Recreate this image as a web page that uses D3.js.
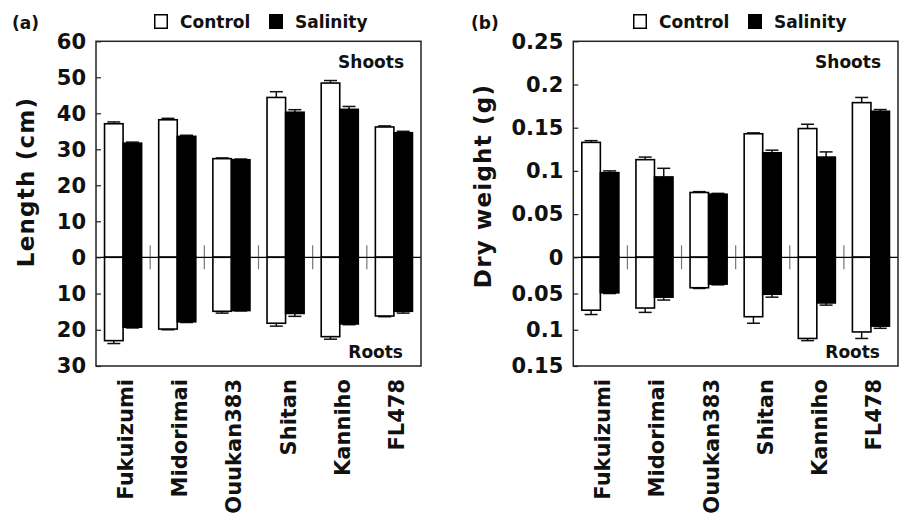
<!DOCTYPE html>
<html>
<head>
<meta charset="utf-8">
<script src="https://cdn.jsdelivr.net/npm/d3@7"></script>
<style>
  body { margin: 0; background: #fff; }
  svg text { font-family: "DejaVu Sans", Verdana, sans-serif; font-weight: bold; fill: #111; }
</style>
</head>
<body>
<svg id="chart" width="900" height="516"></svg>
<script>
var varieties = ["Fukuizumi", "Midorimai", "Ouukan383", "Shitan", "Kanniho", "FL478"];
var groups = ["Control", "Salinity"];

// (a) length, cm
var lenShootCtrl    = [37.1, 38.2, 27.4, 44.4, 48.4, 36.2];
var lenShootCtrlErr = [0.5, 0.4, 0.2, 1.6, 0.7, 0.3];
var lenShootSal     = [31.7, 33.6, 27.1, 40.3, 41.1, 34.6];
var lenShootSalErr  = [0.3, 0.3, 0.2, 0.7, 0.8, 0.4];
var lenRootCtrl     = [23.0, 19.8, 14.9, 18.2, 21.9, 16.2];
var lenRootCtrlErr  = [0.8, 0.2, 0.5, 0.8, 0.7, 0.2];
var lenRootSal      = [19.3, 17.8, 14.7, 15.5, 18.4, 14.9];
var lenRootSalErr   = [0.2, 0.2, 0.1, 0.8, 0.2, 0.5];
var lenShootTicks = [0, 10, 20, 30, 40, 50, 60];
var lenRootTicks  = [10, 20, 30];

// (b) dry weight, g
var dwShootCtrl    = [0.133, 0.113, 0.075, 0.143, 0.149, 0.179];
var dwShootCtrlErr = [0.002, 0.003, 0.001, 0.001, 0.005, 0.006];
var dwShootSal     = [0.098, 0.093, 0.073, 0.121, 0.116, 0.169];
var dwShootSalErr  = [0.002, 0.010, 0.001, 0.003, 0.006, 0.002];
var dwRootCtrl     = [0.073, 0.070, 0.042, 0.082, 0.112, 0.103];
var dwRootCtrlErr  = [0.006, 0.006, 0.001, 0.009, 0.003, 0.009];
var dwRootSal      = [0.049, 0.055, 0.037, 0.051, 0.063, 0.095];
var dwRootSalErr   = [0.001, 0.004, 0.001, 0.004, 0.003, 0.003];
var dwShootTicks = [0, 0.05, 0.1, 0.15, 0.2, 0.25];
var dwRootTicks  = [0.05, 0.1, 0.15];

var svg = d3.select("#chart");
var top_ = 41.3, zero = 257.3, bottom = 366;

var drawPanel = function(p) {
  var g, x, xs, yS, yR, rows, bars, errs, cap;

  x = d3.scaleBand().domain(varieties).range([p.left, p.right]).padding(0);
  xs = d3.scaleBand().domain(groups).range([0, x.bandwidth()]).paddingOuter(0.46).paddingInner(0);
  yS = d3.scaleLinear().domain([0, d3.max(p.shootTicks)]).range([zero, top_]);
  yR = d3.scaleLinear().domain([0, d3.max(p.rootTicks)]).range([zero, bottom]);

  g = svg.append("g");

  rows = [];
  varieties.forEach(function(v, i) {
    groups.forEach(function(grp, j) {
      rows.push({ v: v, grp: grp, part: "shoot", val: p.shoot[j][i], err: p.shootErr[j][i] });
      rows.push({ v: v, grp: grp, part: "root", val: p.root[j][i], err: p.rootErr[j][i] });
    });
  });

  // separators between varieties on the zero line
  g.selectAll("line.sep").data(varieties.slice(1)).enter().append("line")
    .attr("class", "sep")
    .attr("x1", function(d) { return x(d); }).attr("x2", function(d) { return x(d); })
    .attr("y1", zero - 12).attr("y2", zero + 12)
    .attr("stroke", "#777").attr("stroke-width", 1.2);

  // error bars, outward only
  cap = 6.5;
  errs = g.selectAll("g.err").data(rows).enter().append("g").attr("class", "err")
    .attr("stroke", "#111").attr("stroke-width", 1.5);
  errs.append("line")
    .attr("x1", function(d) { return x(d.v) + xs(d.grp) + xs.bandwidth() / 2; })
    .attr("x2", function(d) { return x(d.v) + xs(d.grp) + xs.bandwidth() / 2; })
    .attr("y1", function(d) { return d.part === "shoot" ? yS(d.val) : yR(d.val); })
    .attr("y2", function(d) { return d.part === "shoot" ? yS(d.val + d.err) : yR(d.val + d.err); });
  errs.append("line")
    .attr("x1", function(d) { return x(d.v) + xs(d.grp) + xs.bandwidth() / 2 - cap; })
    .attr("x2", function(d) { return x(d.v) + xs(d.grp) + xs.bandwidth() / 2 + cap; })
    .attr("y1", function(d) { return d.part === "shoot" ? yS(d.val + d.err) : yR(d.val + d.err); })
    .attr("y2", function(d) { return d.part === "shoot" ? yS(d.val + d.err) : yR(d.val + d.err); });

  bars = g.selectAll("rect.bar").data(rows).enter().append("rect")
    .attr("class", "bar")
    .attr("x", function(d) { return x(d.v) + xs(d.grp); })
    .attr("width", xs.bandwidth())
    .attr("y", function(d) { return d.part === "shoot" ? yS(d.val) : zero; })
    .attr("height", function(d) { return d.part === "shoot" ? zero - yS(d.val) : yR(d.val) - zero; })
    .attr("fill", function(d) { return d.grp === "Control" ? "#fff" : "#000"; })
    .attr("stroke", "#000").attr("stroke-width", 1.6);

  // zero line
  g.append("line").attr("x1", p.left).attr("x2", p.right)
    .attr("y1", zero).attr("y2", zero).attr("stroke", "#000").attr("stroke-width", 1.2);

  // frame
  g.append("rect").attr("x", p.left).attr("y", top_)
    .attr("width", p.right - p.left).attr("height", bottom - top_)
    .attr("fill", "none").attr("stroke", "#222").attr("stroke-width", 1.5);

  // y axes: shoots up, roots down
  var axS = g.append("g").attr("transform", "translate(" + p.left + ",0)")
    .call(d3.axisLeft(yS).tickValues(p.shootTicks).tickSize(-5).tickPadding(10).tickFormat(String));
  var axR = g.append("g").attr("transform", "translate(" + p.left + ",0)")
    .call(d3.axisLeft(yR).tickValues(p.rootTicks).tickSize(-5).tickPadding(10).tickFormat(String));
  [axS, axR].forEach(function(a) {
    a.select(".domain").remove();
    a.selectAll("text").style("font-size", "21px").attr("fill", "#111");
    a.selectAll("line").attr("stroke", "#222").attr("stroke-width", 1.2);
  });

  // category labels
  g.selectAll("text.cat").data(varieties).enter().append("text")
    .attr("class", "cat")
    .attr("transform", function(d) { return "translate(" + (x(d) + x.bandwidth() / 2 + 10) + ",379) rotate(-90)"; })
    .attr("text-anchor", "end").style("font-size", "21px")
    .text(function(d) { return d; });

  // y title
  g.append("text")
    .attr("transform", "translate(" + p.titleX + "," + p.titleY + ") rotate(-90)")
    .attr("text-anchor", "middle").style("font-size", "23px").style("letter-spacing", "1.2px")
    .text(p.yTitle);

  g.append("text").attr("x", p.right - 17).attr("y", 68).attr("text-anchor", "end")
    .style("font-size", "17px").text("Shoots");
  g.append("text").attr("x", p.right - 18).attr("y", 358).attr("text-anchor", "end")
    .style("font-size", "17px").text("Roots");

  g.append("text").attr("x", p.tagX).attr("y", 29).style("font-size", "17px").text(p.tag);

  // legend
  var lg = g.selectAll("g.leg").data(groups).enter().append("g").attr("class", "leg")
    .attr("transform", function(d, i) { return "translate(" + p.legX[i] + ",14)"; });
  lg.append("rect").attr("x", 0.75).attr("y", 0.75).attr("width", 12.5).attr("height", 13.5)
    .attr("fill", function(d) { return d === "Control" ? "#fff" : "#000"; })
    .attr("stroke", "#000").attr("stroke-width", 1.5);
  lg.append("text").attr("x", 26).attr("y", 14).style("font-size", "17px").text(function(d) { return d; });
};

drawPanel({
  left: 96, right: 421, tag: "(a)", tagX: 12, legX: [154, 269],
  yTitle: "Length (cm)", titleX: 34, titleY: 182,
  shoot: [lenShootCtrl, lenShootSal], shootErr: [lenShootCtrlErr, lenShootSalErr],
  root: [lenRootCtrl, lenRootSal], rootErr: [lenRootCtrlErr, lenRootSalErr],
  shootTicks: lenShootTicks, rootTicks: lenRootTicks
});
drawPanel({
  left: 573.3, right: 898, tag: "(b)", tagX: 471, legX: [633, 748],
  yTitle: "Dry weight (g)", titleX: 491, titleY: 186,
  shoot: [dwShootCtrl, dwShootSal], shootErr: [dwShootCtrlErr, dwShootSalErr],
  root: [dwRootCtrl, dwRootSal], rootErr: [dwRootCtrlErr, dwRootSalErr],
  shootTicks: dwShootTicks, rootTicks: dwRootTicks
});
</script>
</body>
</html>
